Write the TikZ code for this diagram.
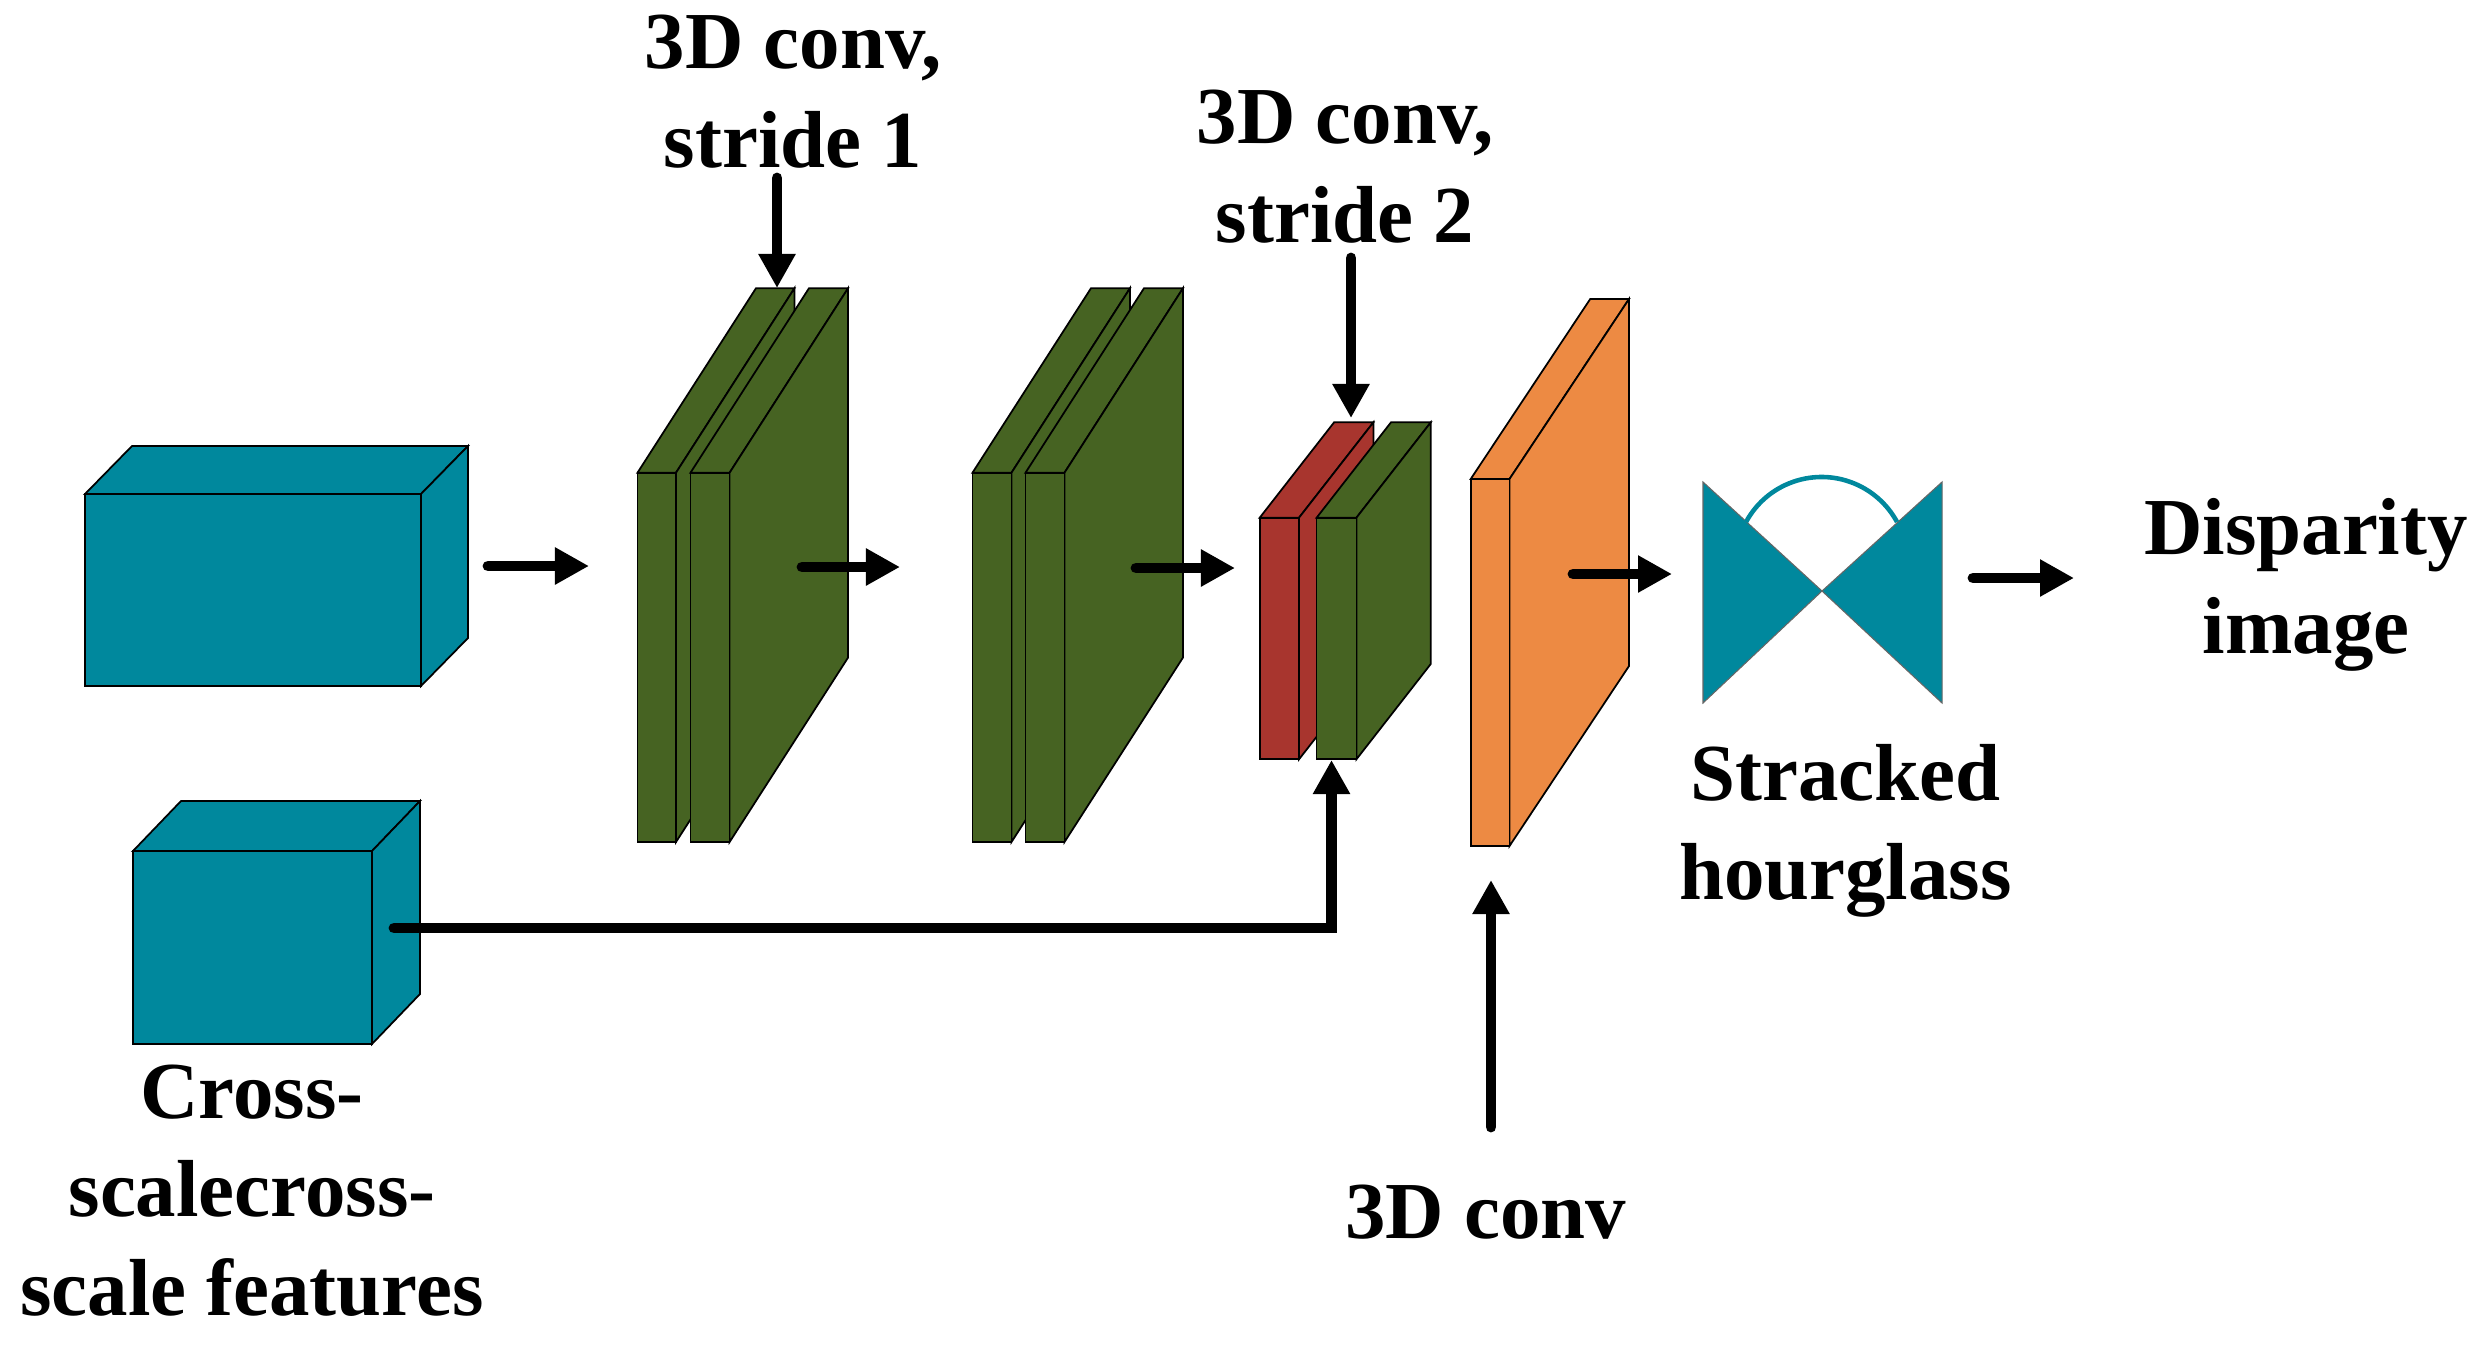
\documentclass[tikz,border=0pt]{standalone}
\usepackage{fontspec}
\setmainfont{Liberation Serif}
\usetikzlibrary{arrows.meta}
\definecolor{tealc}{HTML}{00889D}
\definecolor{greenc}{HTML}{466322}
\definecolor{redc}{HTML}{A8352E}
\definecolor{orangec}{HTML}{ED8A43}
% #1 x0, #2 x1, #3 y top, #4 y bottom, #5 depth dx, #6 depth up, #7 colour
\newcommand{\cubo}[7]{%
  \filldraw[face,fill=#7] (#1,#3) -- (#1+#5,#3-#6) -- (#2+#5,#3-#6) -- (#2,#3) -- cycle;
  \filldraw[face,fill=#7] (#2,#3) -- (#2+#5,#3-#6) -- (#2+#5,#4-#6) -- (#2,#4) -- cycle;
  \filldraw[face,fill=#7] (#1,#3) rectangle (#2,#4);}
\begin{document}
\begin{tikzpicture}[x=0.01cm,y=-0.01cm,
  face/.style={draw=black,line width=0.5pt,line join=miter},
  flow/.style={line width=3.1pt,line cap=round,line join=miter,-{Triangle[length=0.34cm,width=0.35cm]}},
  lbl/.style={font=\fontsize{23}{27.9}\selectfont\bfseries,align=center,inner sep=0pt,anchor=base}]
\useasboundingbox (0,0) rectangle (2488,1348);
% input boxes
\cubo{85}{421}{494}{686}{47}{48}{tealc}
\cubo{133}{372}{851}{1044}{48}{50}{tealc}
% stride-1 blocks
\cubo{637.5}{676}{472.7}{842}{118.5}{184.5}{greenc}
\cubo{690.5}{729.6}{472.7}{842}{118.5}{184.5}{greenc}
\cubo{972.5}{1011.5}{472.7}{842}{118.5}{184.5}{greenc}
\cubo{1025.5}{1064.5}{472.7}{842}{118.5}{184.5}{greenc}
% stride-2 block
\cubo{1259.7}{1299}{517.7}{759.3}{74.4}{95.4}{redc}
\cubo{1316.6}{1356.4}{517.7}{759.3}{74.4}{95.4}{greenc}
% 3D conv slab
\cubo{1470.7}{1509.5}{479}{846}{119.5}{180}{orangec}
% hourglass
\filldraw[fill=tealc,draw=black!60,line width=0.3pt] (1703,482) -- (1822,591) -- (1703,703) -- cycle;
\filldraw[fill=tealc,draw=black!60,line width=0.3pt] (1942,482) -- (1822,591) -- (1942,703) -- cycle;
\draw[tealc,line width=1.3pt] (1746,522) arc[start angle=151.6,end angle=28.4,radius=0.858cm];
% arrow end points
\coordinate (a1s) at (488,566);   \coordinate (a1e) at (589,566);
\coordinate (a2s) at (802,567);   \coordinate (a2e) at (900,567);
\coordinate (a3s) at (1136,568);  \coordinate (a3e) at (1235,568);
\coordinate (a4s) at (1573,574);  \coordinate (a4e) at (1672,574);
\coordinate (a5s) at (1973,578);  \coordinate (a5e) at (2074,578);
\coordinate (s1s) at (777,178);   \coordinate (s1e) at (777,288);
\coordinate (s2s) at (1351,258);  \coordinate (s2e) at (1351,418);
\coordinate (c3s) at (1491,1127); \coordinate (c3e) at (1491,880);
\coordinate (xs) at (394,928);    \coordinate (xe) at (1331.5,760);
\draw[flow] (a1s) -- (a1e);
\draw[flow] (a2s) -- (a2e);
\draw[flow] (a3s) -- (a3e);
\draw[flow] (a4s) -- (a4e);
\draw[flow] (a5s) -- (a5e);
\draw[flow] (s1s) -- (s1e);
\draw[flow] (s2s) -- (s2e);
\draw[flow] (c3s) -- (c3e);
\draw[flow] (xs) -| (xe);
% labels (anchor = baseline of the last line)
\node[lbl] (t1) at (793,167) {3D conv,\\stride 1};
\node[lbl] (t2) at (1345,242) {3D conv,\\stride 2};
\node[lbl] (t3) at (1845.5,899) {Stracked\\hourglass};
\node[lbl] (t4) at (2306,653) {Disparity\\image};
\node[lbl] (t5) at (1485.5,1238) {3D conv};
\node[lbl] (t6) at (252,1315) {Cross-\\scalecross-\\scale features};
\end{tikzpicture}
\end{document}
